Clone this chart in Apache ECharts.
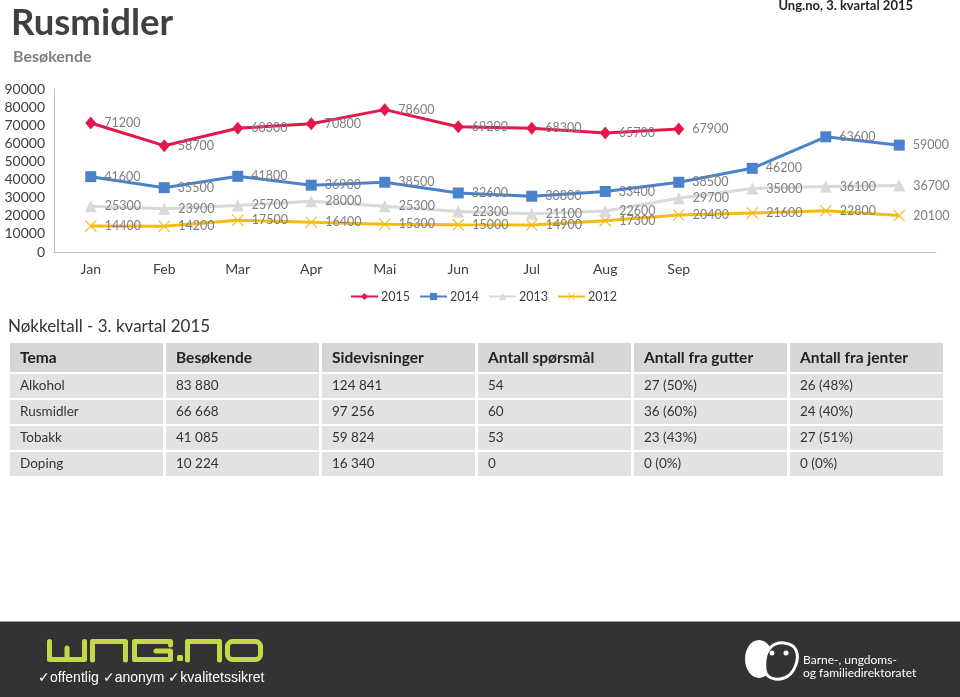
<!DOCTYPE html>
<html>
<head>
<meta charset="utf-8">
<script src="https://cdn.jsdelivr.net/npm/echarts@6/dist/echarts.min.js"></script>
<style>
html,body{margin:0;padding:0;background:#fff;}
#main{position:absolute;left:0;top:0;width:960px;height:697px;}
</style>
</head>
<body>
<div id="main"></div>
<script>
// ---- data ----
var months = ['Jan','Feb','Mar','Apr','Mai','Jun','Jul','Aug','Sep','','',''];
var yearNames = ['2015','2014','2013','2012'];
var s2015 = [71200,58700,68300,70800,78600,69200,68300,65700,67900];
var s2014 = [41600,35500,41800,36900,38500,32600,30800,33400,38500,46200,63600,59000];
var s2013 = [25300,23900,25700,28000,25300,22300,21100,22600,29700,35000,36100,36700];
var s2012 = [14400,14200,17500,16400,15300,15000,14900,17300,20400,21600,22800,20100];
var yTicks = [0,10000,20000,30000,40000,50000,60000,70000,80000,90000];

var pageTitle = 'Rusmidler';
var pageSubtitle = 'Besøkende';
var periodText = 'Ung.no, 3. kvartal 2015';
var tableTitle = 'Nøkkeltall - 3. kvartal 2015';
var tableHeader = ['Tema','Besøkende','Sidevisninger','Antall spørsmål','Antall fra gutter','Antall fra jenter'];
var rowAlkohol = ['Alkohol','83 880','124 841','54','27 (50%)','26 (48%)'];
var rowRusmidler = ['Rusmidler','66 668','97 256','60','36 (60%)','24 (40%)'];
var rowTobakk = ['Tobakk','41 085','59 824','53','23 (43%)','27 (51%)'];
var rowDoping = ['Doping','10 224','16 340','0','0 (0%)','0 (0%)'];
var footerTagline = '\u2713offentlig \u2713anonym \u2713kvalitetssikret';
var footerOrg1 = 'Barne-, ungdoms-';
var footerOrg2 = 'og familiedirektoratet';

// ---- styles ----
var FONT = 'Lato';
var colors = ['#E3174A','#4A82CC','#D9D9D9','#F2BC12'];
var xSymbol = 'path://M0,0.8L0.8,0L6,5.2L11.2,0L12,0.8L6.8,6L12,11.2L11.2,12L6,6.8L0.8,12L0,11.2L5.2,6Z';
var symbols = ['diamond','rect','triangle',xSymbol];
var symbolSizes = [[11,13],11,12,12];
var seriesData = [s2015,s2014,s2013,s2012];

var chart = echarts.init(document.getElementById('main'), null, {renderer:'canvas'});

var series = seriesData.map(function(d,i){
  return {
    name: yearNames[i], type:'line', data:d,
    symbol: symbols[i], symbolSize: symbolSizes[i], showAllSymbol:true,
    lineStyle:{color:colors[i], width:3},
    itemStyle:{color:colors[i]},
    z: 10 - i,
    label:{show:true, position:'right', distance:8, color:'#7f7f7f', fontSize:12.5, fontFamily:FONT},
    emphasis:{disabled:true},
    animation:false
  };
});

var g = [];
function txt(t,x,y,font,fill,align){
  g.push({type:'text', silent:true, style:{text:t, x:x, y:y, font:font, fill:fill, textAlign:align||'left', textVerticalAlign:'middle'}});
}
function rect(x,y,w,h,fill,r){
  g.push({type:'rect', silent:true, shape:{x:x,y:y,width:w,height:h,r:r||0}, style:{fill:fill}});
}
// header texts
txt(pageTitle, 11, 23, 'bold 36.5px '+FONT, '#404040');
txt(pageSubtitle, 13, 57, 'bold 16px '+FONT, '#7f7f7f');
txt(periodText, 913, 6, 'bold 13px '+FONT, '#262626', 'right');
// table
txt(tableTitle, 8, 327, '17px '+FONT, '#333333');
var colX = [10,166,322,478,634,790];
var colW = 153;
var rows = [rowAlkohol,rowRusmidler,rowTobakk,rowDoping];
colX.forEach(function(x,c){
  rect(x,343,colW,29,'#d6d6d6');
  txt(tableHeader[c], x+10, 357.5, 'bold 15.5px '+FONT, '#222222');
  rows.forEach(function(r,ri){
    var top = 374 + ri*26;
    rect(x,top,colW,24,'#e2e2e2');
    txt(r[c], x+10, top+12, '13.5px '+FONT, '#333333');
  });
});
// footer
rect(0,621,960,1,'#9a9a9a');
rect(0,622,960,75,'#333333');
var lg = '#c6d84a';
var logoLines = [
  [[49.5,641.5],[49.5,659.5],[84.5,659.5],[84.5,641.5]],
  [[67,648],[67,659.5]],
  [[92.5,660],[92.5,641.5],[125.5,641.5],[125.5,660]],
  [[170.5,645],[170.5,641.5],[134.5,641.5],[134.5,659.5],[170.5,659.5],[170.5,651],[156,651]],
  [[187.5,660],[187.5,641.5],[219.5,641.5],[219.5,660]]
];
logoLines.forEach(function(pts){
  g.push({type:'polyline', silent:true, shape:{points:pts}, style:{stroke:lg, lineWidth:5, fill:null, lineCap:'round', lineJoin:'round'}});
});
g.push({type:'rect', silent:true, shape:{x:227.5,y:641.5,width:33,height:18,r:5}, style:{stroke:lg, lineWidth:5, fill:null}});
rect(177,655,6,6,lg,1.5);
txt(footerTagline, 38, 678, '14px "Liberation Sans"', '#ffffff');
// right logo
g.push({type:'ellipse', silent:true, shape:{cx:759,cy:659,rx:14,ry:19}, style:{fill:'#ffffff'}});
g.push({type:'polygon', silent:true, shape:{points:[[768,676],[765,660],[771,647],[784,643],[796,650],[795,667],[784,678]], smooth:0.4}, style:{fill:'#333333', stroke:'#ffffff', lineWidth:3}});
g.push({type:'circle', silent:true, shape:{cx:772,cy:653,r:2.5}, style:{fill:'#ffffff'}});
g.push({type:'circle', silent:true, shape:{cx:786,cy:653,r:2.5}, style:{fill:'#ffffff'}});
txt(footerOrg1, 803, 660, '12px '+FONT, '#ffffff');
txt(footerOrg2, 803, 673, '12px '+FONT, '#ffffff');

var option = {
  animation:false,
  textStyle:{fontFamily:FONT},
  grid:{left:54, top:89, width:882, height:163, containLabel:false},
  legend:{
    data:yearNames, left:345, top:285, itemWidth:27, itemHeight:9, itemGap:9,
    textStyle:{fontSize:12.5, color:'#404040', fontFamily:FONT, padding:[0,0,0,-2]},
    selectedMode:false
  },
  xAxis:{
    type:'category', data:months, boundaryGap:true,
    axisTick:{show:false},
    axisLine:{lineStyle:{color:'#bfbfbf', width:1}},
    axisLabel:{interval:0, margin:10, fontSize:14, color:'#404040', fontFamily:FONT}
  },
  yAxis:{
    type:'value', min:yTicks[0], max:yTicks[yTicks.length-1], interval:yTicks[1]-yTicks[0],
    axisLine:{show:true, lineStyle:{color:'#bfbfbf', width:1}},
    axisTick:{show:false},
    splitLine:{show:false},
    axisLabel:{margin:9, fontSize:14, color:'#404040', fontFamily:FONT, formatter:function(v){return String(v);}}
  },
  series:series,
  graphic:{elements:g}
};
chart.setOption(option);
</script>
</body>
</html>
